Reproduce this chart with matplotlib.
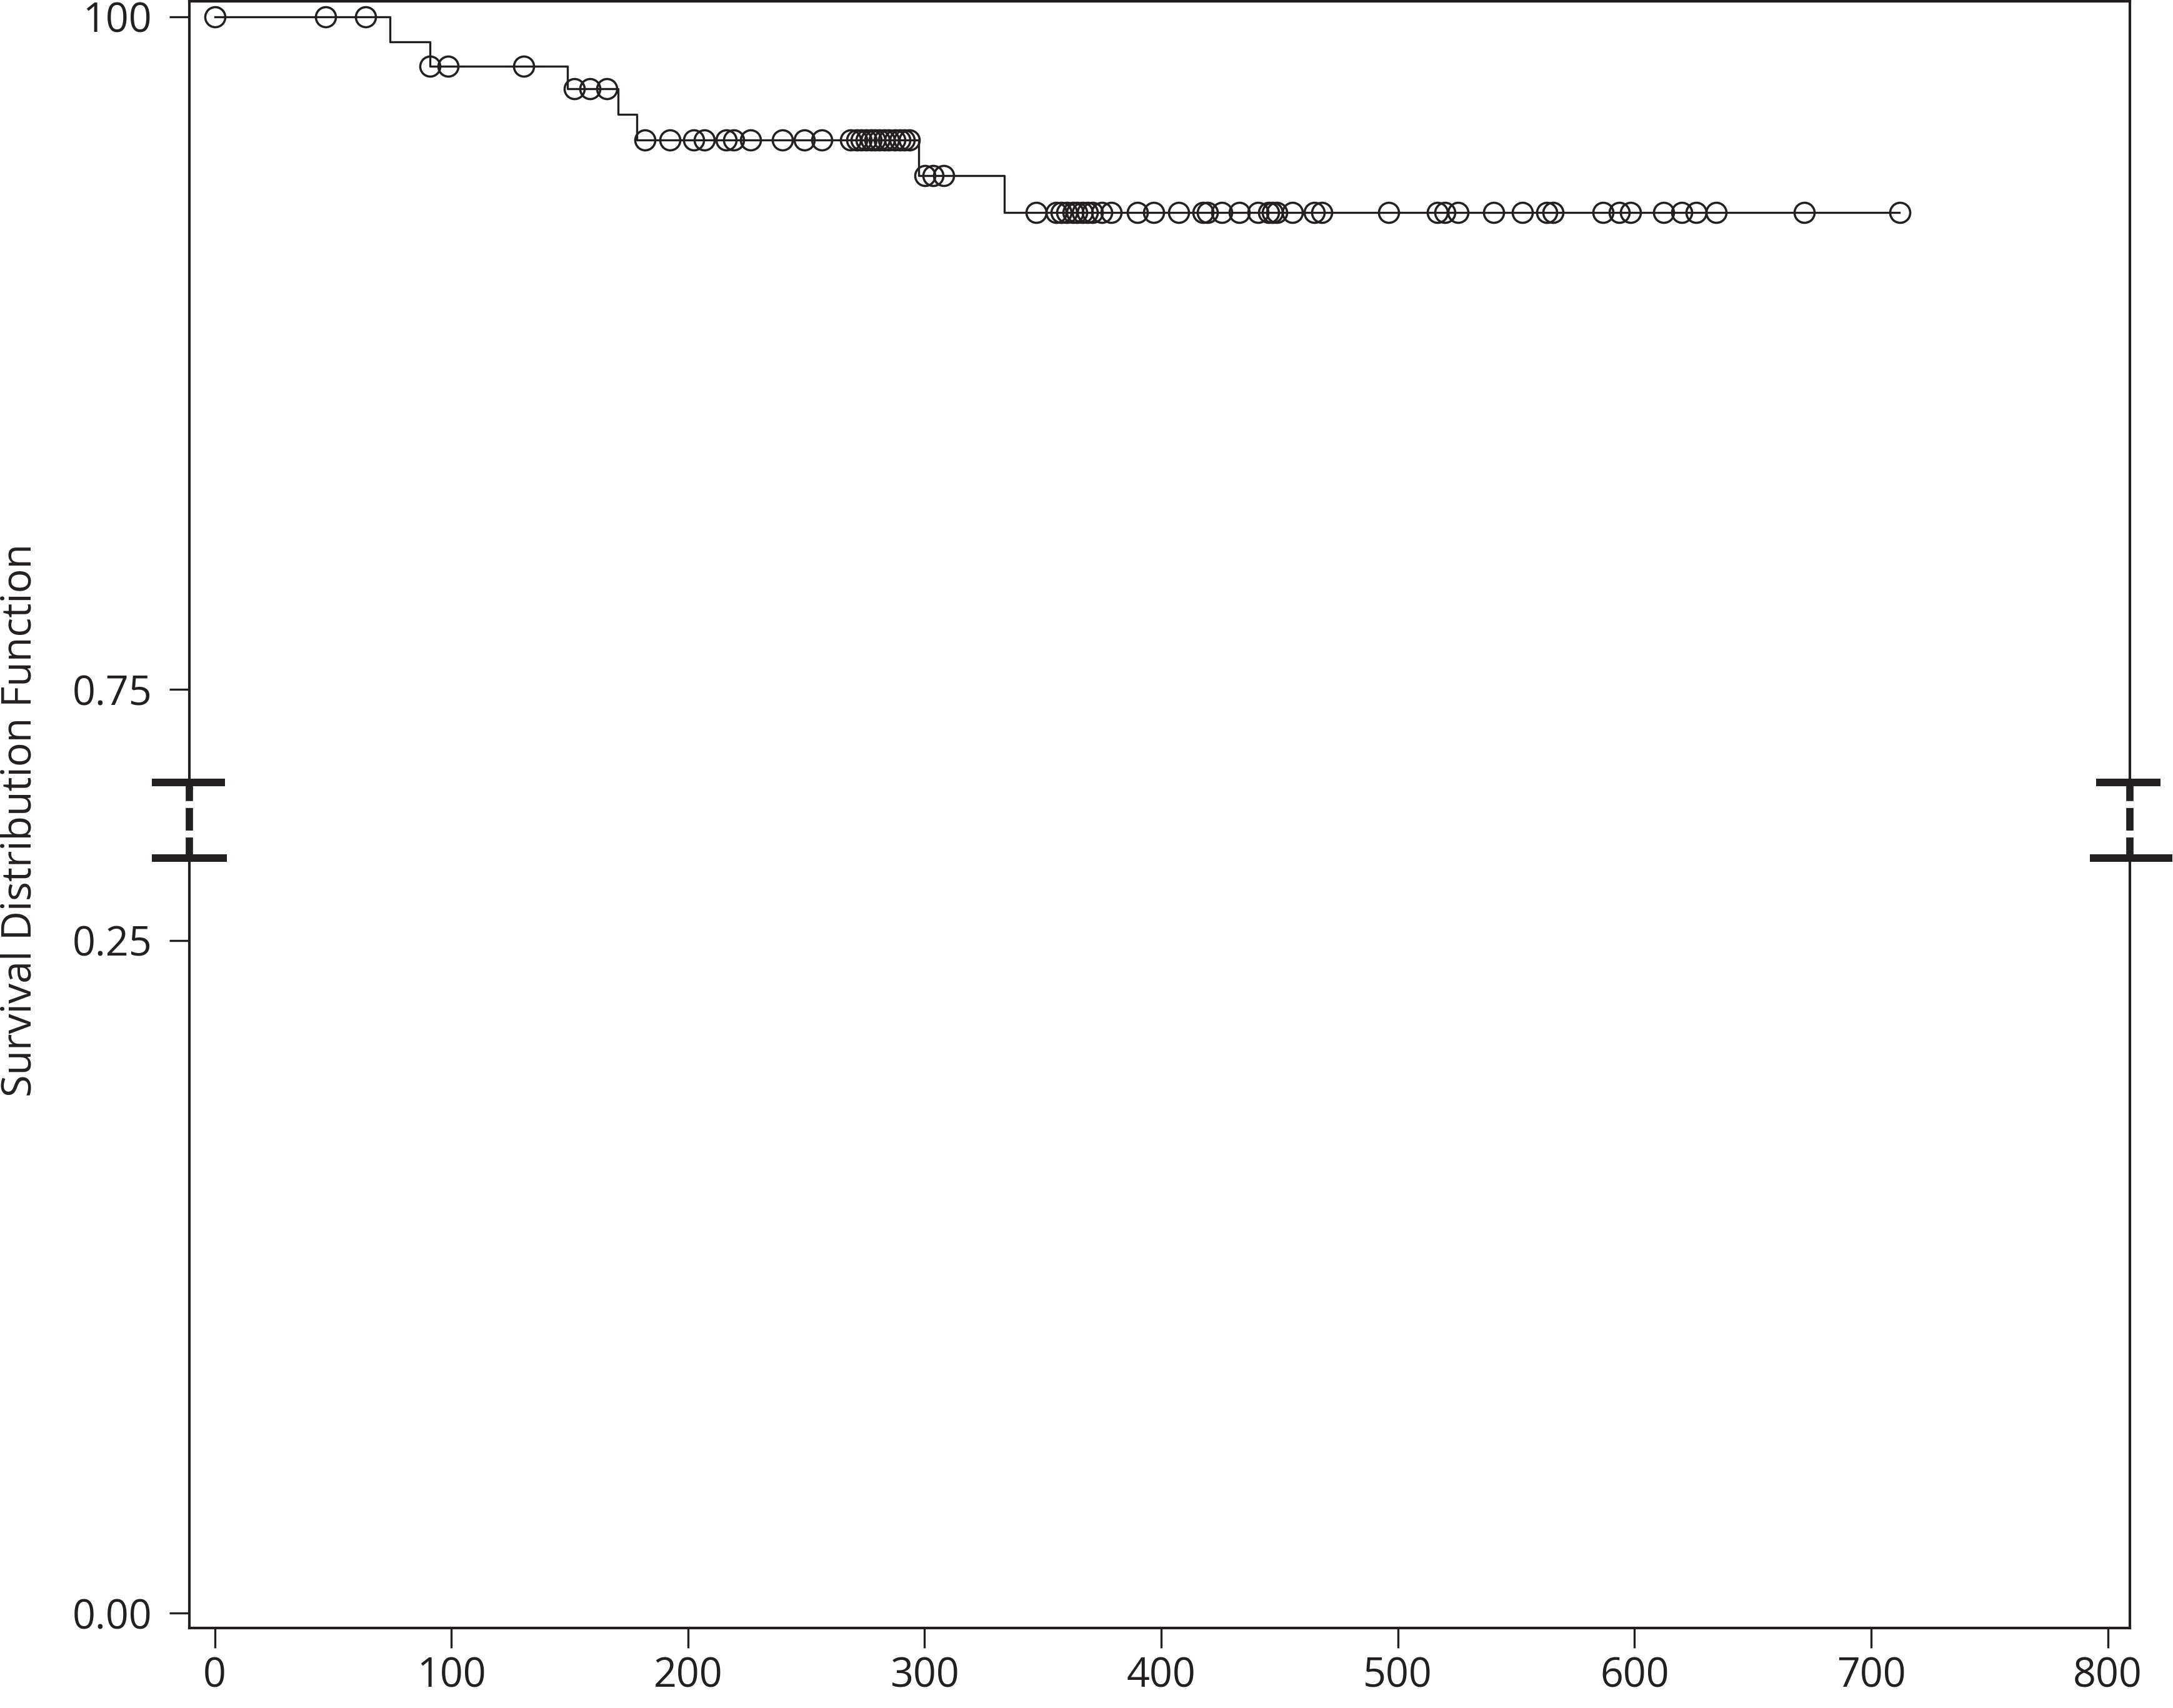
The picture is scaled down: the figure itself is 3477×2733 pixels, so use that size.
import numpy as np
import matplotlib
matplotlib.use('Agg')
import matplotlib.pyplot as plt

plt.rcParams['font.family'] = ['Open Sans', 'DejaVu Sans']

# Kaplan-Meier steps (day of drop, survival after drop)
event_days = [0, 74, 91, 149, 170.5, 178.5, 297.6, 333.7]
survival = [1.0, 0.9907, 0.9817, 0.9732, 0.9637, 0.9541, 0.9409, 0.9273]
last_day = 712

# censored observations (circles)
censored_days = [0, 46.8, 63.8,
                 91.0, 98.7, 130.7,
                 151.9, 158.6, 165.8,
                 181.8, 192.3, 202.4, 206.9, 216.2, 219.3, 226.4, 240.0, 249.1,
                 256.6, 268.8, 271.3, 273.3, 275.4, 277.4, 278.9, 280.9, 282.9,
                 284.9, 287.5, 289.5, 291.5, 293.5,
                 300.1, 303.7, 308.2,
                 347.2, 355.6, 357.8, 360.0, 362.7, 364.4, 366.6, 368.8, 371.0,
                 374.9, 378.9, 389.9, 396.9, 407.5, 417.6, 419.4, 425.5, 433.0,
                 440.9, 445.3, 447.1, 448.8, 455.5, 464.7, 467.8, 496.2, 516.7,
                 519.8, 525.5, 540.4, 552.6, 562.9, 565.5, 586.6, 593.7, 598.4,
                 612.2, 620.1, 626.0, 634.6, 671.8, 712.1]

x_ticks = [0, 100, 200, 300, 400, 500, 600, 700, 800]
y_ticks = [0.0, 0.25, 0.75, 1.0]
y_tick_labels = ['0.00', '0.25', '0.75', '100']

ink = '#231f20'

# broken y axis: squeeze 0.25..0.75 into a short stretch
gap = 181 / 1940
knots_y = [-1.0, 0.25, 0.75, 2.0]
knots_t = [-1.0, 0.25, 0.25 + gap, 0.25 + gap + 1.25]

def fwd(y):
    return np.interp(y, knots_y, knots_t)

def inv(t):
    return np.interp(t, knots_t, knots_y)

fig = plt.figure(figsize=(3477 / 300, 2733 / 300), dpi=300)
ax = fig.add_axes([0.0872, 0.04675, 0.893, 0.9524])
ax.set_yscale('function', functions=(fwd, inv))

xs = event_days + [last_day]
ys = survival + [survival[-1]]
ax.step(xs, ys, where='post', color=ink, lw=0.8, zorder=3)

idx = np.searchsorted(event_days, censored_days, side='right') - 1
cens_y = np.array(survival)[idx]
ax.plot(censored_days, cens_y, 'o', ms=7.7, mfc='none', mec=ink, mew=0.85, zorder=4)

ax.set_xlim(-10.66, 809.4)
ax.set_ylim(-0.0056, 1.0057)
ax.set_xticks(x_ticks)
ax.set_yticks(y_ticks)
ax.set_yticklabels(y_tick_labels)
ax.yaxis.set_minor_locator(matplotlib.ticker.NullLocator())
ax.tick_params(axis='both', direction='out', length=7.7, width=0.8, color=ink,
               labelsize=15.5, labelcolor=ink)
ax.tick_params(axis='y', pad=6.7)
ax.tick_params(axis='x', pad=3)
for s in ax.spines.values():
    s.set_linewidth(1.0)
    s.set_color(ink)

ax.set_ylabel('Survival Distribution Function', fontsize=15.5, color=ink)
ax.yaxis.label.set_va('center')
ax.yaxis.set_label_coords(-0.087, 0.4968)

# break marks on both spines
top_b, bot_b = 0.5198, 0.4733
tr = ax.transAxes
for xs_spine, up, low in [(0.0, (-0.0193, 0.0184), (-0.0193, 0.0193)),
                          (1.0, (-0.0174, 0.0158), (-0.0206, 0.0219))]:
    ax.plot([xs_spine, xs_spine], [top_b, bot_b], color='white', lw=2.0,
            transform=tr, clip_on=False, zorder=5)
    ax.plot([xs_spine, xs_spine], [top_b, bot_b], color=ink, lw=2.8,
            linestyle=(0.55, (3.1, 0.95)), solid_capstyle='butt',
            dash_capstyle='butt', transform=tr, clip_on=False, zorder=6)
    ax.plot([xs_spine + up[0], xs_spine + up[1]], [top_b, top_b], color=ink,
            lw=2.9, solid_capstyle='butt', transform=tr, clip_on=False, zorder=6)
    ax.plot([xs_spine + low[0], xs_spine + low[1]], [bot_b, bot_b], color=ink,
            lw=2.9, solid_capstyle='butt', transform=tr, clip_on=False, zorder=6)

fig.savefig('out.png', dpi=300)
